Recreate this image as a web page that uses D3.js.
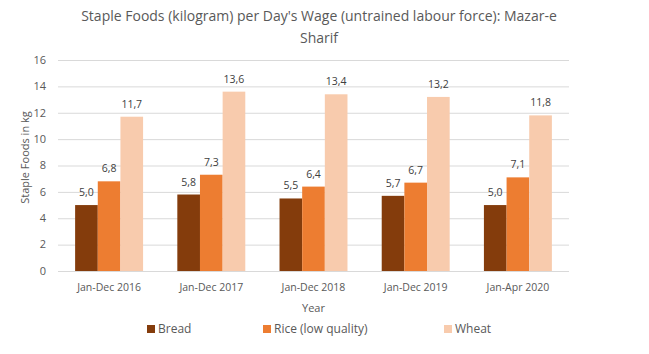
<!DOCTYPE html>
<html>
<head>
<meta charset="utf-8">
<script src="https://cdn.jsdelivr.net/npm/d3@7"></script>
<style>
  body { margin: 0; background: #fff; }
  text { font-family: "Open Sans", sans-serif; fill: #595959; }
</style>
</head>
<body>
<div id="chart"></div>
<script>
// chart data
var periods = ["Jan-Dec 2016", "Jan-Dec 2017", "Jan-Dec 2018", "Jan-Dec 2019", "Jan-Apr 2020"];
var seriesNames = ["Bread", "Rice (low quality)", "Wheat"];
var bread = [5.0, 5.8, 5.5, 5.7, 5.0];
var rice = [6.8, 7.3, 6.4, 6.7, 7.1];
var wheat = [11.7, 13.6, 13.4, 13.2, 11.8];
var yTicks = [0, 2, 4, 6, 8, 10, 12, 14, 16];
var colors = ["#843C0C", "#ED7D31", "#F8CBAD"];

var svgWidth = 649, svgHeight = 354;
var margin = { top: 60, left: 58, right: 80, bottom: 83 };
var width = svgWidth - margin.left - margin.right;
var height = svgHeight - margin.top - margin.bottom;

var svg = d3.select("#chart").append("svg")
  .attr("width", svgWidth)
  .attr("height", svgHeight);

var chartGroup = svg.append("g")
  .attr("transform", `translate(${margin.left}, ${margin.top})`);

// build rows from the arrays
var rows = periods.map((p, i) => ({ period: p, values: [bread[i], rice[i], wheat[i]] }));

var x0 = d3.scaleBand().domain(periods).range([0, width])
  .paddingInner(0.335).paddingOuter(0.1675);
var x1 = d3.scaleBand().domain(seriesNames).range([0, x0.bandwidth()]);
var y = d3.scaleLinear().domain([0, 16]).range([height, 0]);

// gridlines
chartGroup.append("g")
  .selectAll("line")
  .data(yTicks)
  .enter()
  .append("line")
  .attr("x1", 0)
  .attr("x2", width)
  .attr("y1", d => y(d) + 0.5)
  .attr("y2", d => y(d) + 0.5)
  .attr("stroke", "#d9d9d9")
  .attr("stroke-width", 1);

// y tick labels
chartGroup.append("g")
  .selectAll("text")
  .data(yTicks)
  .enter()
  .append("text")
  .attr("x", -12)
  .attr("y", d => y(d))
  .attr("dy", "0.35em")
  .attr("text-anchor", "end")
  .style("font-size", "11px")
  .text(d => d);

// bars
var groups = chartGroup.selectAll(".period")
  .data(rows)
  .enter()
  .append("g")
  .attr("transform", d => `translate(${x0(d.period)}, 0)`);

groups.selectAll("rect")
  .data(d => d.values.map((v, i) => ({ name: seriesNames[i], value: v, idx: i })))
  .enter()
  .append("rect")
  .attr("x", d => x1(d.name))
  .attr("y", d => y(d.value))
  .attr("width", x1.bandwidth())
  .attr("height", d => height - y(d.value))
  .attr("fill", d => colors[d.idx]);

groups.selectAll(".val")
  .data(d => d.values.map((v, i) => ({ name: seriesNames[i], value: v })))
  .enter()
  .append("text")
  .attr("x", d => x1(d.name) + x1.bandwidth() / 2)
  .attr("y", d => y(d.value) - 9)
  .attr("text-anchor", "middle")
  .style("font-size", "10.5px")
  .style("fill", "#404040")
  .text(d => d.value.toFixed(1).replace(".", ","));

// category labels
chartGroup.append("g")
  .selectAll("text")
  .data(periods)
  .enter()
  .append("text")
  .attr("x", d => x0(d) + x0.bandwidth() / 2)
  .attr("y", height + 16)
  .attr("dy", "0.35em")
  .attr("text-anchor", "middle")
  .style("font-size", "10.5px")
  .text(d => d);

// axis titles
chartGroup.append("text")
  .attr("x", width / 2)
  .attr("y", height + 37)
  .attr("dy", "0.35em")
  .attr("text-anchor", "middle")
  .style("font-size", "11px")
  .text("Year");

chartGroup.append("text")
  .attr("transform", "rotate(-90)")
  .attr("x", -(height / 2) + 8)
  .attr("y", -33)
  .attr("dy", "0.35em")
  .attr("text-anchor", "middle")
  .style("font-size", "11px")
  .text("Staple Foods in kg");

// title
var titleX = 319;
var title = svg.append("text")
  .attr("text-anchor", "middle")
  .style("font-size", "14px");
title.append("tspan").attr("x", titleX).attr("y", 21)
  .text("Staple Foods (kilogram) per Day's Wage (untrained labour force): Mazar-e");
title.append("tspan").attr("x", titleX).attr("y", 43)
  .text("Sharif");

// legend
var legendX = [147, 263, 444];
var legend = svg.append("g");
seriesNames.forEach((name, i) => {
  legend.append("rect")
    .attr("x", legendX[i])
    .attr("y", 325)
    .attr("width", 8)
    .attr("height", 8)
    .attr("fill", colors[i]);
  legend.append("text")
    .attr("x", legendX[i] + 11)
    .attr("y", 329)
    .attr("dy", "0.35em")
    .style("font-size", "12px")
    .text(name);
});
</script>
</body>
</html>
